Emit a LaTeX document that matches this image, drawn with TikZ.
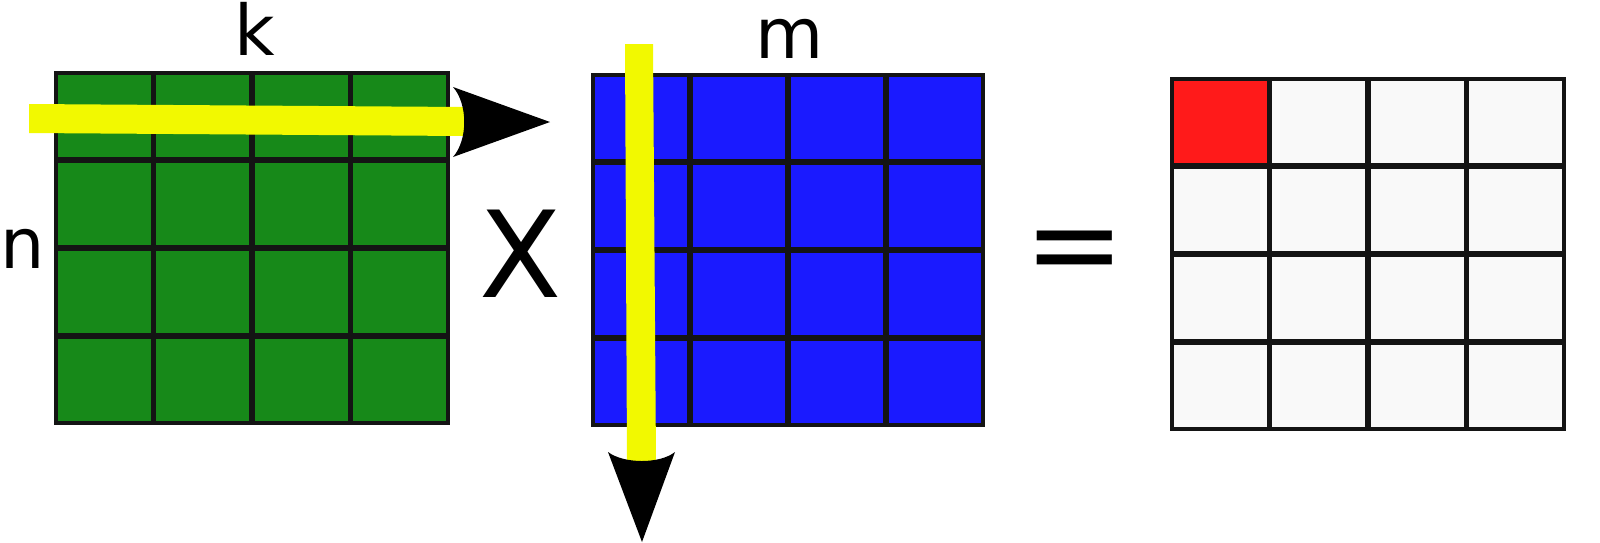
\documentclass[tikz,border=0pt]{standalone}
\usepackage{fontspec}
\setmainfont{DejaVu Sans}
\definecolor{cgreen}{RGB}{23,137,25}
\definecolor{cblue}{RGB}{26,26,255}
\definecolor{cred}{RGB}{255,26,26}
\definecolor{cgrey}{RGB}{249,249,249}
\definecolor{cyellow}{RGB}{242,249,0}
\definecolor{cedge}{RGB}{20,20,20}
\tikzset{
  cell/.style={draw=cedge, line width=3.2pt, rectangle, inner sep=0pt, outer sep=0pt,
    minimum width=96.5pt, minimum height=86pt},
  bar/.style={fill=cyellow, draw=none},
  head/.style={fill=black, draw=none},
  lbl/.style={anchor=base, inner sep=0pt, font=\fontsize{70}{84}\selectfont},
  op/.style={anchor=base, inner sep=0pt, font=\fontsize{120}{144}\selectfont}
}
\begin{document}
\begin{tikzpicture}[x=1pt,y=-1pt]
\useasboundingbox (0,0) rectangle (1600,542);
% green matrix
\foreach \i in {0,...,3}{
  \foreach \j in {0,...,3}{
    \node[cell, fill=cgreen]
      (A-\i-\j) at ({55+98.5*(\j+0.5)},{72+88*(\i+0.5)}) {};
  }
}
% blue matrix
\foreach \i in {0,...,3}{
  \foreach \j in {0,...,3}{
    \node[cell, fill=cblue, minimum width=96pt]
      (B-\i-\j) at ({592+98*(\j+0.5)},{74+88*(\i+0.5)}) {};
  }
}
% result matrix
\foreach \i in {0,...,3}{
  \foreach \j in {0,...,3}{
    \node[cell, fill=cgrey]
      (C-\i-\j) at ({1171+98.5*(\j+0.5)},{78+88*(\i+0.5)}) {};
  }
}
\node[cell, fill=cred] (R) at (C-0-0) {};
% horizontal yellow bar and arrow
\fill[bar] (29,104) -- (465,107) -- (465,136) -- (29,133) -- cycle;
\coordinate (hb) at (453,87);
\coordinate (ht) at (550,122);
\coordinate (hc) at (453,157);
\fill[head] (hb) -- (ht) -- (hc) .. controls (468,140) and (468,104) .. (hb) -- cycle;
% vertical yellow bar and arrow
\fill[bar] (625,44) -- (653,44) -- (656,462) -- (627,462) -- cycle;
\coordinate (vb) at (608,452);
\coordinate (vt) at (642,542);
\coordinate (vc) at (675,452);
\fill[head] (vb) -- (vt) -- (vc) .. controls (660,464) and (624,464) .. (vb) -- cycle;
% labels
\node[lbl] (k) at (255,55) {k};
\node[lbl] (m) at (790,58) {m};
\node[lbl] (n) at (23,268) {n};
\node[op] (x) at (521,297) {X};
\node[op] (eq) at (1075,285) {=};
\end{tikzpicture}
\end{document}
